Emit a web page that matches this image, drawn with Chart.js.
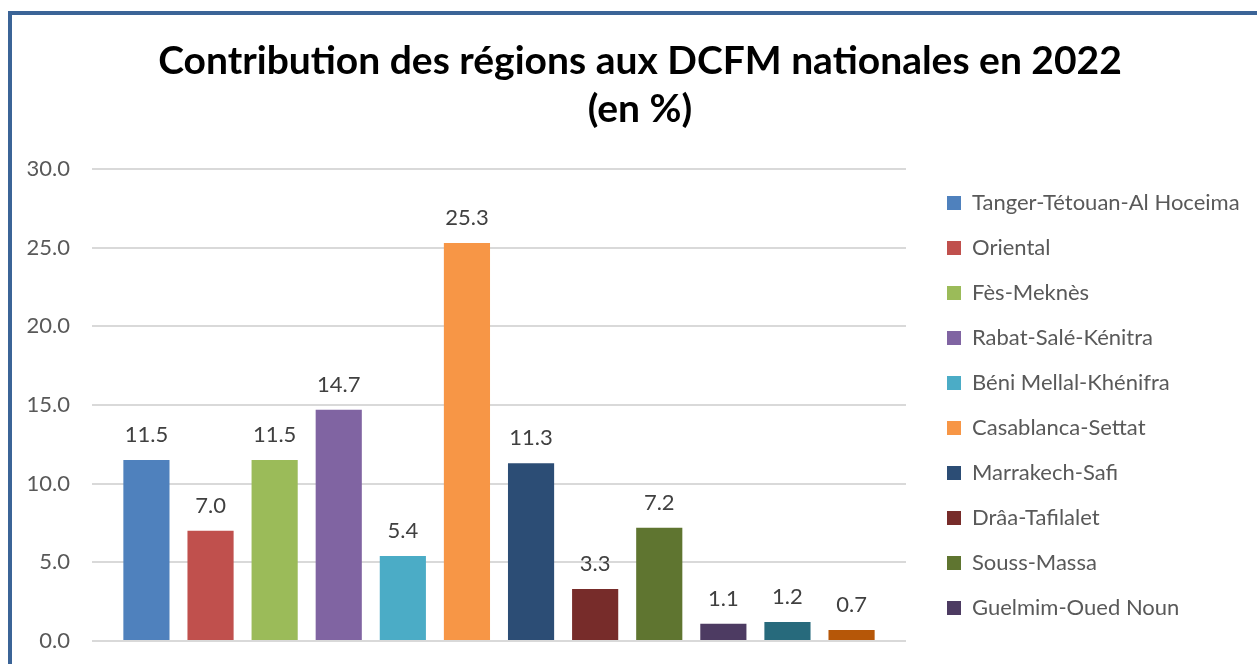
<!DOCTYPE html>
<html>
<head>
<meta charset="utf-8">
<script src="https://cdn.jsdelivr.net/npm/chart.js@4.4.0/dist/chart.umd.min.js"></script>
<style>
  html, body { margin: 0; padding: 0; background: #fff; overflow: hidden; }
  #frame {
    position: absolute; left: 8px; top: 11px; width: 2000px; height: 1000px;
    border-left: 4px solid #3b6497; border-top: 4px solid #3b6497;
  }
  #wrap { position: absolute; left: 12px; top: 15px; width: 1256px; height: 680px; }
</style>
</head>
<body>
<div id="frame"></div>
<div id="wrap"><canvas id="regionChart"></canvas></div>
<script>
const regions = [
    "Tanger-Tétouan-Al Hoceima",
    "Oriental",
    "Fès-Meknès",
    "Rabat-Salé-Kénitra",
    "Béni Mellal-Khénifra",
    "Casablanca-Settat",
    "Marrakech-Safi",
    "Drâa-Tafilalet",
    "Souss-Massa",
    "Guelmim-Oued Noun",
    "Laâyoune-Sakia El Hamra",
    "Dakhla-Oued Ed-Dahab"
];
const shares = [11.5, 7.0, 11.5, 14.7, 5.4, 25.3, 11.3, 3.3, 7.2, 1.1, 1.2, 0.7];
const yTicks = [0, 5, 10, 15, 20, 25, 30];

const colors = [
    "#4f81bd", "#c0504d", "#9bbb59", "#8064a2", "#4bacc6", "#f79646",
    "#2c4d75", "#772c2a", "#5f7530", "#4d3b62", "#276a7c", "#b65708"
];

const FONT = "Lato";
const fontSize = 22;
const legPad = 45 - fontSize;

// legend sits between two spacer axes so the title stays centred on the full width
const mctx = document.createElement("canvas").getContext("2d");
mctx.font = fontSize + "px " + FONT;
const maxText = Math.max(...regions.slice(0, 10).map(r => mctx.measureText(r).width));
const legendLeft = 947 - legPad - 12;
const legendWidth = legPad + 14 + fontSize / 2 + maxText + 10;
const outerGap = Math.max(0, 1256 - (legendLeft + legendWidth));

const valueLabels = {
    id: "valueLabels",
    afterDatasetsDraw(chart) {
        const c = chart.ctx;
        c.save();
        c.font = fontSize + "px " + FONT;
        c.fillStyle = "#404040";
        c.textAlign = "center";
        c.textBaseline = "alphabetic";
        chart.data.datasets.forEach((ds, i) => {
            const bar = chart.getDatasetMeta(i).data[0];
            c.fillText(ds.data[0].toFixed(1), bar.x, bar.y - 18);
        });
        c.restore();
    }
};

const ctx = document.getElementById("regionChart");

new Chart(ctx, {
    type: "bar",
    data: {
        labels: [""],
        datasets: regions.map((r, i) => ({
            label: r,
            data: [shares[i]],
            backgroundColor: colors[i],
            categoryPercentage: 0.945,
            barPercentage: 0.72
        }))
    },
    options: {
        responsive: true,
        maintainAspectRatio: false,
        animation: false,
        layout: { padding: 0 },
        scales: {
            x: {
                grid: { display: false },
                border: { display: false },
                ticks: { display: false },
                afterFit: s => { s.height = 54; }
            },
            y: {
                min: 0,
                max: 30,
                afterBuildTicks: s => { s.ticks = yTicks.map(v => ({ value: v })); },
                afterFit: s => { s.width = 80; },
                grid: { color: "#d9d9d9", lineWidth: 2, drawTicks: false },
                border: { display: false },
                ticks: {
                    padding: 22,
                    color: "#595959",
                    font: { family: FONT, size: fontSize },
                    callback: v => v.toFixed(1)
                }
            },
            gapInner: {
                position: "right",
                weight: 0,
                grid: { display: false },
                border: { display: false },
                ticks: { display: false },
                afterFit: s => { s.width = legendLeft - 894; }
            },
            gapOuter: {
                position: "right",
                weight: 2000,
                grid: { display: false },
                border: { display: false },
                ticks: { display: false },
                afterFit: s => { s.width = outerGap; }
            }
        },
        plugins: {
            title: {
                display: true,
                text: ["Contribution des régions aux DCFM nationales en 2022", "(en %)"],
                color: "#000",
                font: { family: FONT, size: 39, weight: "bold", lineHeight: 48 / 39 },
                padding: { top: 22, bottom: 36 }
            },
            legend: {
                position: "right",
                align: "start",
                fullSize: true,
                maxWidth: 600,
                title: {
                    display: true,
                    text: " ",
                    font: { size: 10, lineHeight: 1.2 },
                    padding: { top: 142, bottom: 0 }
                },
                labels: {
                    filter: item => item.datasetIndex < 10,
                    boxWidth: 14,
                    boxHeight: 14,
                    padding: legPad,
                    color: "#595959",
                    font: { family: FONT, size: fontSize }
                }
            },
            tooltip: { enabled: false }
        }
    },
    plugins: [valueLabels]
});
</script>
</body>
</html>
